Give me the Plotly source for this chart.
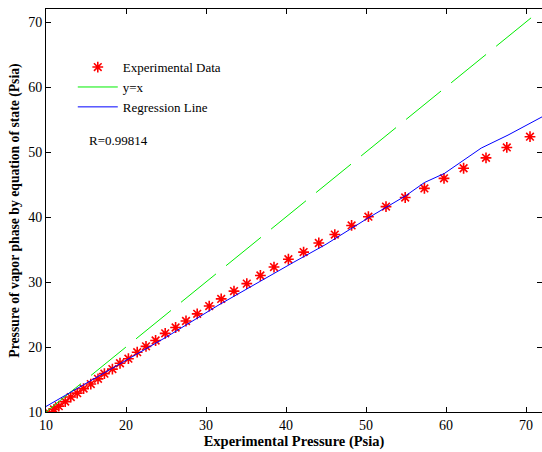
import plotly.graph_objects as go

exp_x = [10.4, 11.0, 11.6, 12.4, 13.1, 13.9, 14.7, 15.6, 16.5, 17.3, 18.3, 19.25, 20.3, 21.4,
         22.5, 23.7, 24.9, 26.2, 27.5, 28.9, 30.4, 31.9, 33.5, 35.1, 36.8, 38.5, 40.3, 42.2,
         44.1, 46.1, 48.2, 50.3, 52.5, 54.9, 57.3, 59.75, 62.2, 65.0, 67.6, 70.5]
exp_y = [9.8, 10.4, 10.9, 11.6, 12.3, 12.9, 13.6, 14.3, 15.1, 15.9, 16.6, 17.5, 18.2, 19.2,
         20.1, 21.0, 22.1, 23.0, 24.0, 25.1, 26.3, 27.4, 28.6, 29.75, 31.0, 32.3, 33.5, 34.6,
         36.0, 37.3, 38.7, 40.05, 41.6, 43.0, 44.4, 45.95, 47.5, 49.1, 50.7, 52.35]

# y = x reference line
ident_x = [10, 71]
ident_y = [10, 71]

# Regression line
reg_x = [10, 14.25, 20, 25, 31.5, 37, 39.25, 40.9, 45, 50.2, 55, 57.3, 59.8, 64.4, 67.75, 72]
reg_y = [10.85, 13.9, 17.9, 21.5, 26.4, 30.3, 31.95, 33.0, 35.8, 39.8, 43.3, 45.3, 46.7, 50.6, 52.6, 55.4]

x_ticks = [10, 20, 30, 40, 50, 60, 70]
y_ticks = [10, 20, 30, 40, 50, 60, 70]

FONT = "Liberation Serif, Times New Roman, serif"

fig = go.Figure()
fig.add_trace(go.Scatter(
    x=exp_x, y=exp_y, mode="markers", name="Experimental Data",
    marker=dict(symbol="asterisk-open", size=9, color="red",
                line=dict(color="red", width=1.6)),
))
fig.add_trace(go.Scatter(
    x=ident_x, y=ident_y, mode="lines", name="y=x",
    line=dict(color="#00ee00", width=1, dash="45px,13px"),
))
fig.add_trace(go.Scatter(
    x=reg_x, y=reg_y, mode="lines", name="Regression Line",
    line=dict(color="#0000ff", width=1),
))

fig.add_annotation(
    x=0.083, y=0.673, xref="paper", yref="paper", xanchor="left", yanchor="middle",
    text="R=0.99814", showarrow=False, font=dict(family=FONT, size=13, color="black"),
)

axis_common = dict(
    showgrid=False, zeroline=False, showline=True, linecolor="black", linewidth=1,
    mirror="allticks", ticks="inside", ticklen=5, tickcolor="black",
    tickfont=dict(family=FONT, size=14, color="black"),
)

fig.update_layout(
    width=542, height=452,
    margin=dict(l=46, r=0, t=9, b=40),
    paper_bgcolor="white", plot_bgcolor="white",
    showlegend=True,
    legend=dict(
        x=0.054, y=0.893, xanchor="left", yanchor="top",
        bgcolor="rgba(0,0,0,0)", borderwidth=0,
        font=dict(family=FONT, size=13, color="black"),
        itemwidth=40, tracegroupgap=0,
    ),
    xaxis=dict(
        range=[10, 72], tickvals=x_ticks,
        title=dict(text="<b>Experimental Pressure (Psia)</b>", standoff=3,
                   font=dict(family=FONT, size=14.5, color="black")),
        **axis_common,
    ),
    yaxis=dict(
        range=[10, 72], tickvals=y_ticks,
        title=dict(text="<b>Pressure of vapor phase by equation of state (Psia)</b>", standoff=5,
                   font=dict(family=FONT, size=13.7, color="black")),
        **axis_common,
    ),
)

fig.write_html(
    "out.html",
    config={"displayModeBar": False},
    post_script="document.body.style.margin='0';document.body.style.overflow='hidden';",
)
